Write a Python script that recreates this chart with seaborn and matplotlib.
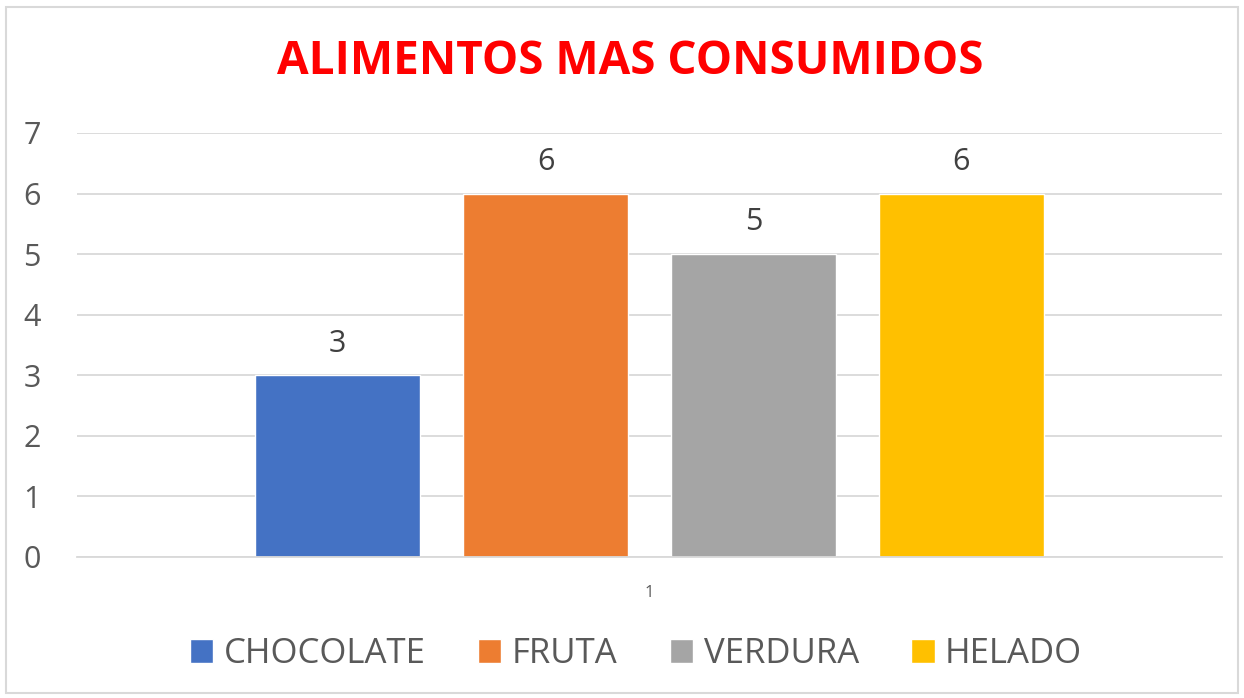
import pandas as pd
import matplotlib
matplotlib.use("Agg")
from matplotlib import pyplot as plt
from matplotlib.patches import Rectangle
import seaborn as sns

# data
categories = ["CHOCOLATE", "FRUTA", "VERDURA", "HELADO"]
values = [3, 6, 5, 6]
group = ["1", "1", "1", "1"]
colors = ["#4472C4", "#ED7D31", "#A5A5A5", "#FFC000"]
y_ticks = [0, 1, 2, 3, 4, 5, 6, 7]

df = pd.DataFrame({"grupo": group, "alimento": categories, "cantidad": values})

sns.set_theme(style="white")
plt.rcParams["font.family"] = ["Open Sans", "DejaVu Sans"]

fig = plt.figure(figsize=(12.44, 6.98), dpi=100)
ax = fig.add_axes([77 / 1244, 1 - 557 / 698, (1222 - 77) / 1244, (557 - 133) / 698])

sns.barplot(data=df, x="grupo", y="cantidad", hue="alimento", palette=colors,
            width=0.726, gap=0.205, ax=ax, legend=True, saturation=1)

ax.set_ylim(0, 7)
ax.set_xlim(-0.5, 0.5)
ax.set_yticks(y_ticks)
ax.set_yticklabels([str(t) for t in y_ticks], fontsize=22, color="#595959")
ax.tick_params(axis="x", labelsize=12, colors="#595959", length=0, pad=20)
ax.tick_params(axis="y", length=0, pad=26)
ax.yaxis.grid(True, color="#D9D9D9", linewidth=1.3)
ax.set_axisbelow(True)
for s in ["left", "right", "top"]:
    ax.spines[s].set_visible(False)
ax.spines["bottom"].set_color("#D9D9D9")
ax.spines["bottom"].set_linewidth(1.3)
ax.set_xlabel("")
ax.set_ylabel("")

for c in ax.containers:
    ax.bar_label(c, fontsize=22, color="#404040", padding=12)

handles, labels = ax.get_legend_handles_labels()
ax.legend(handles, labels, loc="center", bbox_to_anchor=(636 / 1244, 1 - 654 / 698),
          bbox_transform=fig.transFigure, ncol=4, frameon=False, fontsize=25,
          labelcolor="#595959", handlelength=0.68, handleheight=0.68,
          handletextpad=0.3, columnspacing=1.5)

fig.text(630 / 1244, 1 - 62 / 698, "ALIMENTOS MAS CONSUMIDOS", ha="center", va="center",
         fontsize=33, fontweight="bold", color="#FF0000")

fig.patches.append(Rectangle((6 / 1244, 5 / 698), 1232 / 1244, 686 / 698,
                             transform=fig.transFigure, fill=False,
                             edgecolor="#D9D9D9", linewidth=1.5))

fig.savefig("out.png", dpi=100)
